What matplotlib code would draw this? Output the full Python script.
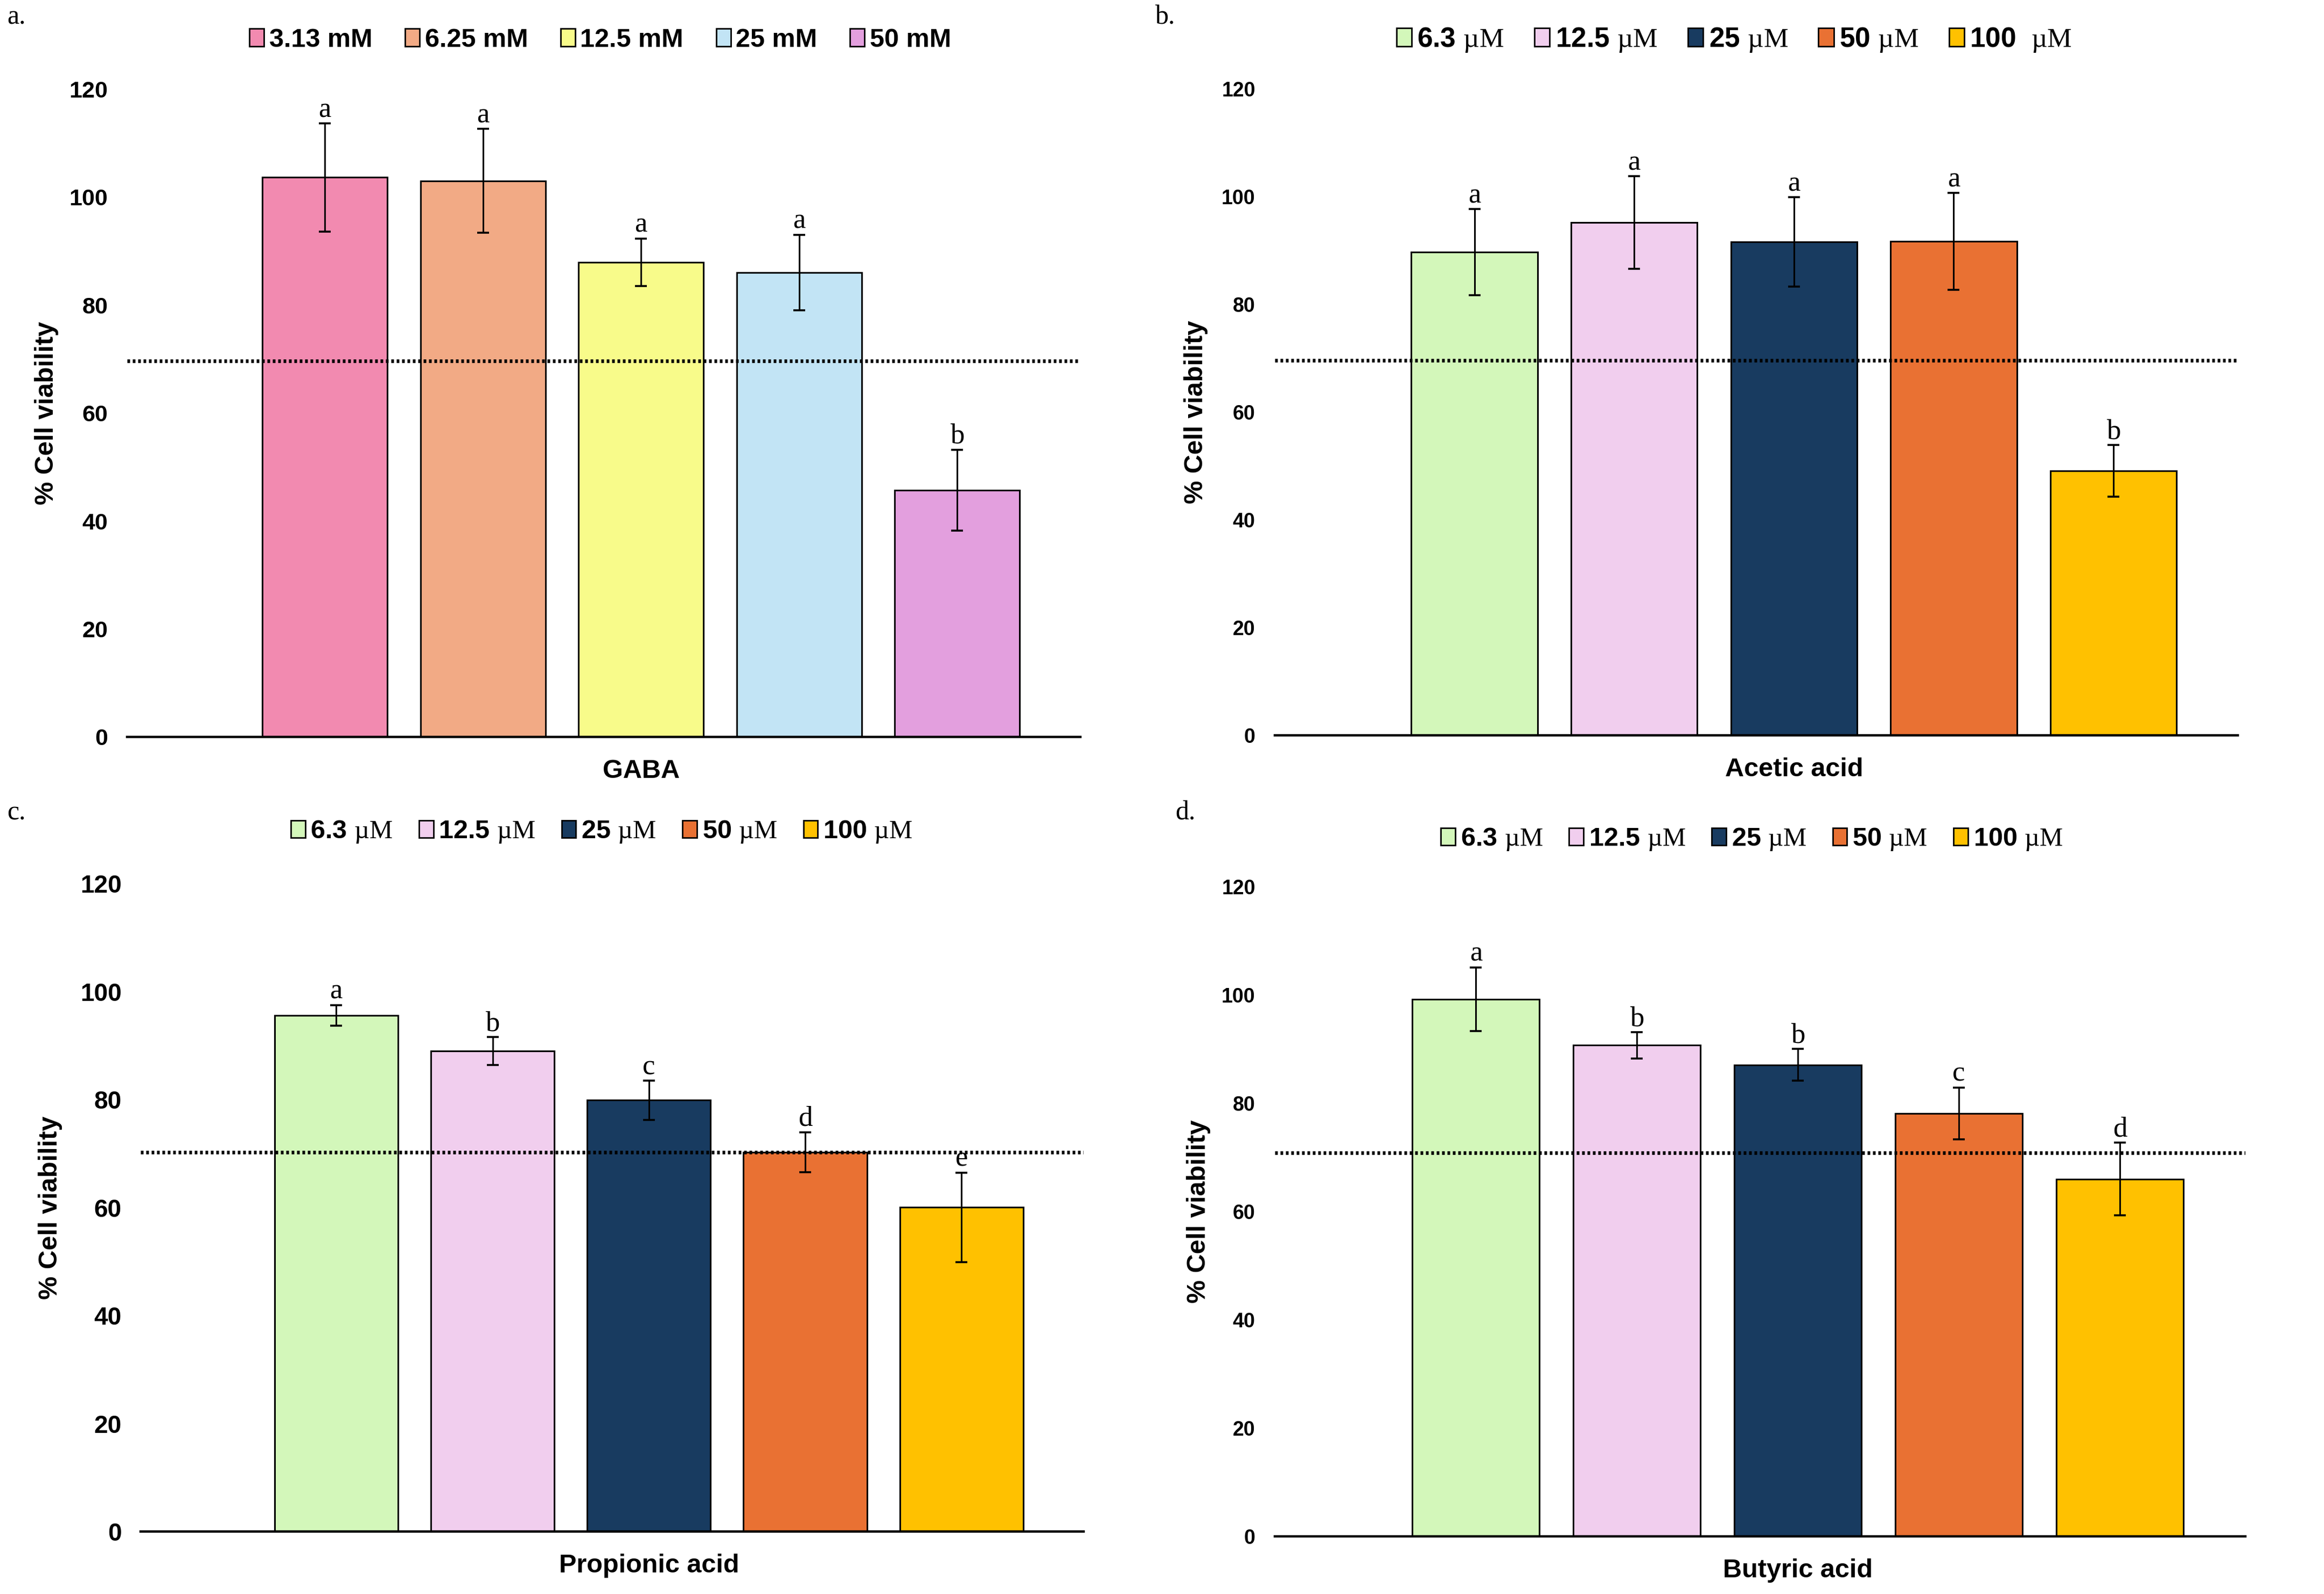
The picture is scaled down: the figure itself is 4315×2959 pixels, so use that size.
import matplotlib
matplotlib.use('Agg')
import matplotlib.pyplot as plt
from matplotlib.patches import Patch
import numpy as np

plt.rcParams['font.family'] = ['Liberation Sans', 'DejaVu Sans']
plt.rcParams['mathtext.fontset'] = 'custom'
plt.rcParams['mathtext.rm'] = 'Liberation Serif'
plt.rcParams['mathtext.it'] = 'Liberation Serif:italic'
plt.rcParams['mathtext.bf'] = 'Liberation Serif:bold'

UM = '$\\mathrm{µM}$'

# data
gaba_labels = ['3.13 mM', '6.25 mM', '12.5 mM', '25 mM', '50 mM']
gaba_mean = [103.6, 103.0, 87.9, 86.0, 45.7]
gaba_err = [10.0, 9.6, 4.4, 7.0, 7.5]
gaba_sig = ['a', 'a', 'a', 'a', 'b']

acid_labels_b = ['6.3 ' + UM, '12.5 ' + UM, '25 ' + UM, '50 ' + UM, '100  ' + UM]
acid_labels_c = ['6.3 ' + UM, '12.5 ' + UM, '25 ' + UM, '50 ' + UM, '100 ' + UM]

acetic_mean = [89.7, 95.2, 91.6, 91.7, 49.1]
acetic_err = [8.0, 8.6, 8.3, 9.0, 4.8]
acetic_sig = ['a', 'a', 'a', 'a', 'b']

propionic_mean = [95.6, 89.0, 79.9, 70.3, 60.1]
propionic_err_low = [1.9, 2.6, 3.6, 3.7, 10.2]
propionic_err_high = [1.9, 2.6, 3.6, 3.7, 6.4]
propionic_sig = ['a', 'b', 'c', 'd', 'e']

butyric_mean = [99.2, 90.7, 87.1, 78.1, 66.0]
butyric_err = [5.9, 2.4, 2.9, 4.8, 6.7]
butyric_sig = ['a', 'b', 'b', 'c', 'd']

threshold = 70
y_ticks = [0, 20, 40, 60, 80, 100, 120]

gaba_colors = ['#F28AB0', '#F2AA85', '#F8FB8A', '#C2E4F5', '#E39FDE']
acid_colors = ['#D3F7BA', '#F1CEEE', '#183B60', '#E97133', '#FFC100']

XLIM = (-1.25, 4.78)


def draw_panel(fig, rect, means, errs, sig, colors, xlabel, tick_size, ylab_x, line_y):
    ax = fig.add_axes(rect)
    x = np.arange(len(means))
    ax.bar(x, means, width=0.79, color=colors, edgecolor='black', linewidth=1.1, zorder=2)
    ax.errorbar(x, means, yerr=errs, fmt='none', ecolor='black', elinewidth=1.1,
                capsize=4, capthick=1.3, zorder=3)
    ax.axhline(line_y, color='black', linewidth=2.4, linestyle=(0, (0.75, 0.75)), zorder=4)

    errs_arr = np.atleast_2d(np.array(errs))
    upper = errs_arr[-1]
    for i, s in enumerate(sig):
        ax.text(x[i], means[i] + upper[i] + 1.2, s, ha='center', va='baseline',
                family='Liberation Serif', fontsize=19)

    ax.set_xlim(*XLIM)
    ax.set_ylim(0, 120)
    ax.set_yticks(y_ticks)
    ax.set_xticks([])
    for side in ['top', 'left', 'right']:
        ax.spines[side].set_visible(False)
    ax.spines['bottom'].set_linewidth(1.6)
    ax.tick_params(axis='y', length=0, pad=13, labelsize=tick_size)
    for lab in ax.get_yticklabels():
        lab.set_fontweight('bold')

    ax.set_ylabel('% Cell viability', fontsize=17.5, fontweight='bold')
    ax.yaxis.set_label_coords(ylab_x, 0.5)
    ax.set_xlabel(xlabel, fontsize=17.5, fontweight='bold')
    ax.xaxis.set_label_coords((2 - XLIM[0]) / (XLIM[1] - XLIM[0]), -0.034)
    return ax


def add_legend(fig, labels, colors, pos, size, spacing):
    handles = [Patch(facecolor=c, edgecolor='black', linewidth=1.0) for c in colors]
    fig.legend(handles, labels, loc='center', bbox_to_anchor=pos, ncol=5, frameon=False,
               prop={'weight': 'bold', 'size': size}, handlelength=0.55, handleheight=0.65,
               handletextpad=0.2, columnspacing=spacing, borderpad=0)


fig = plt.figure(figsize=(21.575, 14.795), dpi=200)

draw_panel(fig, [0.0548, 0.5377, 0.4101, 0.4065], gaba_mean, gaba_err, gaba_sig,
           gaba_colors, 'GABA', 15.5, -0.072, 69.6)
draw_panel(fig, [0.5485, 0.5386, 0.4145, 0.4056], acetic_mean, acetic_err, acetic_sig,
           acid_colors, 'Acetic acid', 13.5, -0.069, 69.6)
draw_panel(fig, [0.0606, 0.0391, 0.4056, 0.4065], propionic_mean,
           [propionic_err_low, propionic_err_high], propionic_sig,
           acid_colors, 'Propionic acid', 16.5, -0.083, 70.3)
draw_panel(fig, [0.5485, 0.0363, 0.4177, 0.4074], butyric_mean, butyric_err, butyric_sig,
           acid_colors, 'Butyric acid', 13.5, -0.066, 70.8)

add_legend(fig, gaba_labels, gaba_colors, (0.2583, 0.9749), 17.5, 1.25)
add_legend(fig, acid_labels_b, acid_colors, (0.7462, 0.9749), 18.5, 1.1)
add_legend(fig, acid_labels_c, acid_colors, (0.2589, 0.4781), 17.5, 1.0)
add_legend(fig, acid_labels_c, acid_colors, (0.7538, 0.4735), 17.5, 1.0)

for txt, px, py in [('a.', 0.003, 0.989), ('b.', 0.497, 0.989),
                    ('c.', 0.003, 0.490), ('d.', 0.5057, 0.490)]:
    fig.text(px, py, txt, family='Liberation Serif', fontsize=18, ha='left', va='center')

fig.savefig('out.png', dpi=200)
